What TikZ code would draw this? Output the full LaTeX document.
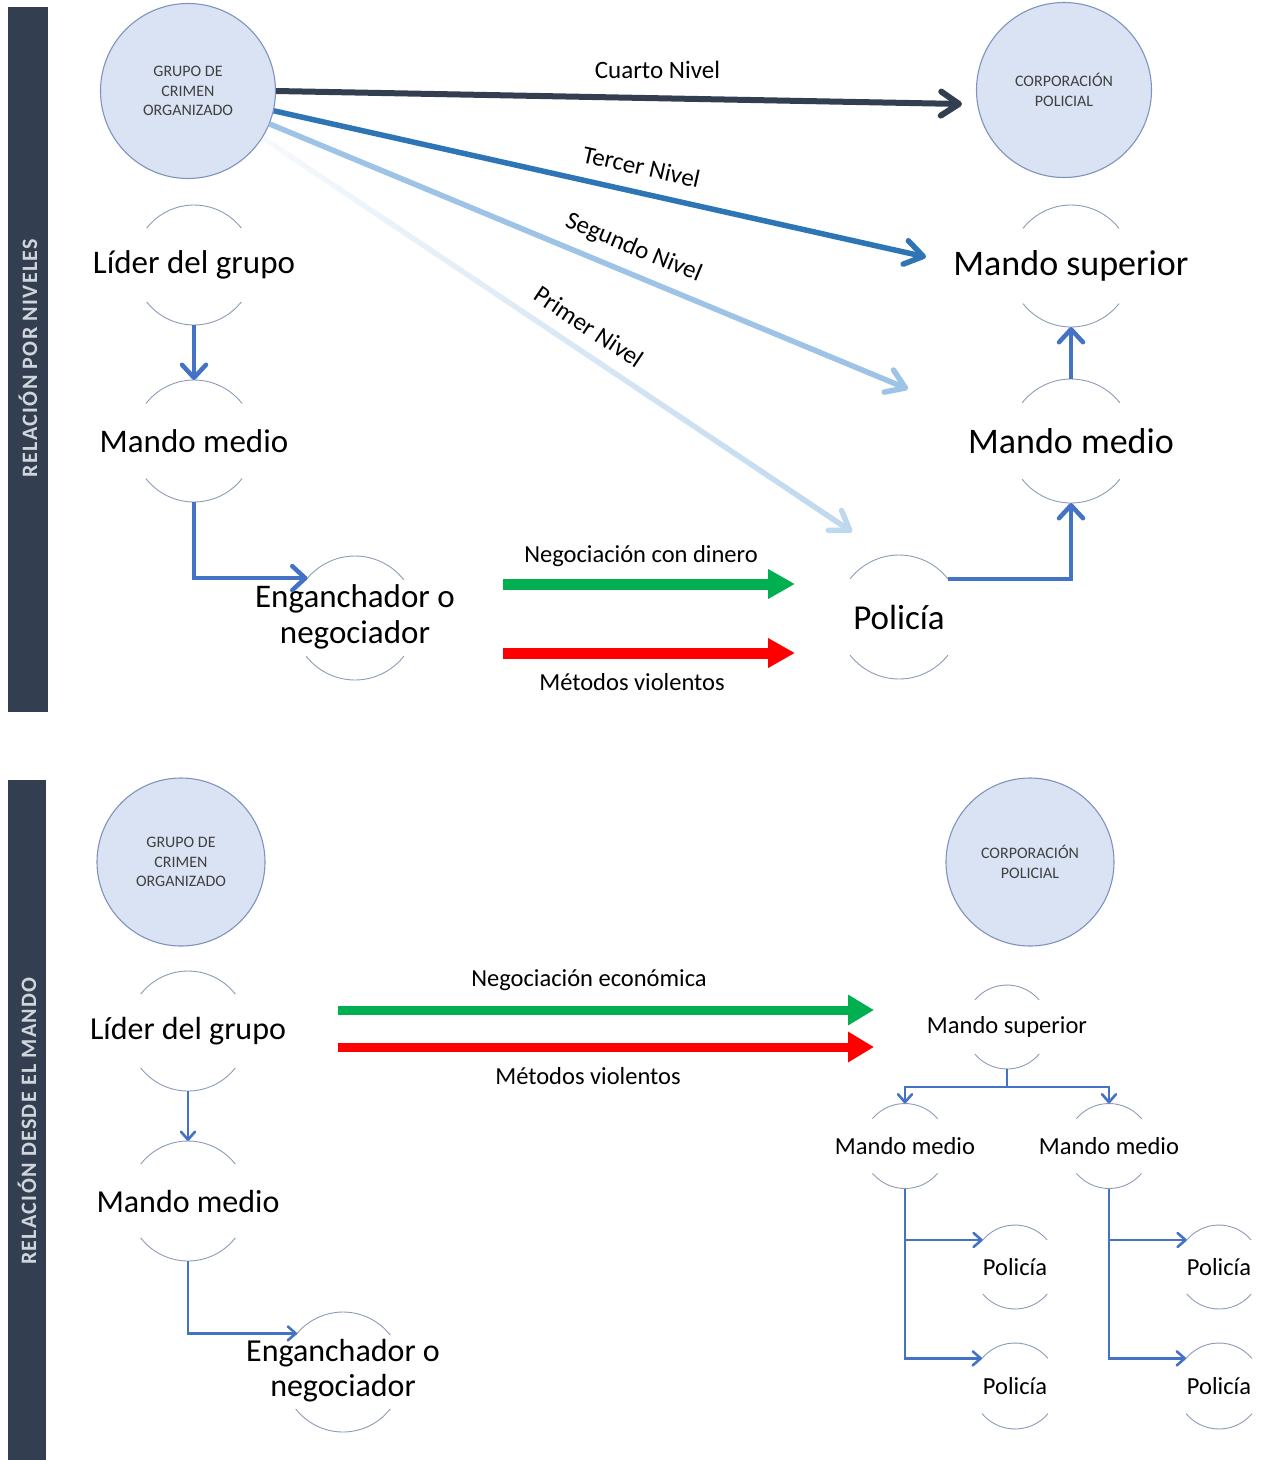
\documentclass[tikz,border=0pt]{standalone}
\usepackage{fontspec}
\setmainfont{Carlito}
\usetikzlibrary{arrows.meta,fadings}
\definecolor{barcol}{HTML}{333F50}
\definecolor{bartext}{HTML}{D0D5DD}
\definecolor{circfill}{HTML}{DAE3F3}
\definecolor{circdraw}{HTML}{7F93BD}
\definecolor{circtext}{HTML}{404040}
\definecolor{arccol}{HTML}{8C9BB8}
\definecolor{conblue}{HTML}{4472C4}
\definecolor{lvfour}{HTML}{333F50}
\definecolor{lvthree}{HTML}{2E75B6}
\definecolor{lvtwo}{HTML}{9DC3E6}
\definecolor{lvone}{HTML}{BDD7EE}
\definecolor{okgreen}{HTML}{00B050}
\definecolor{badred}{HTML}{FF0000}
\tikzfading[name=lvfade, left color=transparent!88, right color=transparent!0]
\newcommand\twolines[2]{\begin{tabular}{@{}c@{}}#1\\#2\end{tabular}}
\begin{document}
\begin{tikzpicture}[x=1pt,y=1pt,
  bignode/.style={circle, draw=circdraw, fill=circfill, line width=1.1pt, minimum size=#1, inner sep=0pt, align=center, text=circtext, font=\fontsize{16}{19.5}\selectfont},
  ring/.style={circle, minimum size=#1, inner sep=0pt, outer sep=0pt, text=black, execute at begin node={\hbox to 0pt\bgroup\hss}, execute at end node={\hss\egroup}},
  arcline/.style={draw=arccol, line width=0.9pt},
  conn/.style={draw=conblue, line width=4.5pt, -{Straight Barb[length=13pt,width=24pt,round]}},
  thinconn/.style={draw=conblue, line width=2.6pt, -{Straight Barb[length=8pt,width=14pt,round]}},
  lvl/.style={line width=5.5pt, -{Straight Barb[length=18pt,width=24pt,round]}},
  lvlab/.style={font=\fontsize{25}{30}\selectfont, sloped, text=black},
  fat/.style={line width=11pt, -{Triangle[length=27pt,width=28pt]}},
  fatb/.style={line width=9pt, -{Triangle[length=26pt,width=29pt]}},
  lab/.style={font=\fontsize{24.5}{29}\selectfont, text=black},
  bartxt/.style={rotate=90, text=bartext, font=\fontsize{22}{26}\selectfont\bfseries\addfontfeatures{LetterSpace=6}},
  fbig/.style={font=\fontsize{33}{36}\selectfont},
  fbigr/.style={font=\fontsize{36}{40}\selectfont},
  fmid/.style={font=\fontsize{32}{35}\selectfont},
  fsmall/.style={font=\fontsize{24.5}{28}\selectfont},
]
\useasboundingbox (0,0) rectangle (1262,-1460);

% side bars
\fill[barcol] (8,-7) rectangle (48,-712);
\fill[barcol] (8,-780) rectangle (46,-1460);
\node[bartxt] (barA) at (28,-358) {RELACIÓN POR NIVELES};
\node[bartxt] (barB) at (27,-1121) {RELACIÓN DESDE EL MANDO};

% ===== top section =====
\node[bignode=175pt] (grupoA) at (188,-91) {GRUPO DE\\CRIMEN\\ORGANIZADO};
\node[bignode=175pt] (corpA) at (1064,-90) {CORPORACIÓN\\POLICIAL};

\node[ring=120pt, fbig] (lidA) at (194,-265) {Líder del grupo};
\node[ring=122pt, fbig] (medA) at (194,-441) {Mando medio};
\node[ring=124pt, fbig] (engA) at (355,-618) {\twolines{Enganchador o}{negociador}};
\node[ring=124pt, font=\fontsize{35}{40}\selectfont] (polA) at (899,-617) {Policía};
\node[ring=124pt, fbigr] (medB) at (1071,-441) {Mando medio};
\node[ring=122pt, fbigr] (supB) at (1071,-266) {Mando superior};

% ===== bottom section =====
\node[bignode=168pt] (grupoB) at (181,-862) {GRUPO DE\\CRIMEN\\ORGANIZADO};
\node[bignode=168pt] (corpB) at (1030,-862) {CORPORACIÓN\\POLICIAL};

\node[ring=120pt, fmid] (lidC) at (188,-1031) {Líder del grupo};
\node[ring=120pt, fmid] (medD) at (188,-1201) {Mando medio};
\node[ring=120pt, fmid] (engB) at (343,-1372) {\twolines{Enganchador o}{negociador}};

\node[ring=84pt, fsmall] (supC) at (1007,-1027) {Mando superior};
\node[ring=85pt, fsmall] (medC1) at (905,-1146) {Mando medio};
\node[ring=85pt, fsmall] (medC2) at (1109,-1146) {Mando medio};
\node[ring=84pt, fsmall] (polC1) at (1015,-1267) {Policía};
\node[ring=86pt, fsmall] (polC2) at (1015,-1386) {Policía};
\node[ring=84pt, fsmall] (polC3) at (1219,-1267) {Policía};
\node[ring=86pt, fsmall] (polC4) at (1219,-1386) {Policía};

% arcs around the text nodes
\foreach \n/\r in {lidA/60, medA/61, engA/62, polA/62, medB/62, supB/61, lidC/60, medD/60, engB/60}{
  \draw[arcline] (\n.38) arc[start angle=38, end angle=142, radius=\r pt];
  \draw[arcline] (\n.218) arc[start angle=218, end angle=322, radius=\r pt];
}
\foreach \n/\r in {supC/42, medC1/42.5, medC2/42.5, polC1/42, polC2/43, polC3/42, polC4/43}{
  \draw[arcline] (\n.40) arc[start angle=40, end angle=140, radius=\r pt];
  \draw[arcline] (\n.220) arc[start angle=220, end angle=320, radius=\r pt];
}

% level arrows
\coordinate (e4) at (962,-104);
\coordinate (e3) at (926,-257);
\coordinate (e2) at (908,-389);
\coordinate (e1) at (853,-532);
\draw[lvl, draw=lvone, path fading=lvfade] (grupoA.-32) -- (e1);
\path (grupoA.-32) -- (e1) node[lvlab, pos=0.53, above=12pt] {Primer Nivel};
\draw[lvl, draw=lvtwo] (grupoA.-22.4) -- node[lvlab, pos=0.555, above=8pt] {Segundo Nivel} (e2);
\draw[lvl, draw=lvthree] (grupoA.-13.7) -- node[lvlab, pos=0.555, above=11pt] {Tercer Nivel} (e3);
\draw[lvl, draw=lvfour, line width=6pt] (grupoA.-0.5) -- node[lab, pos=0.556, above=13pt, font=\fontsize{25}{30}\selectfont] {Cuarto Nivel} (e4);

% top connectors
\draw[conn] (lidA.south) -- (medA.north);
\draw[conn] (medA.south) |- (engA.140);
\draw[conn] (polA.38) -| (medB.south);
\draw[conn] (medB.north) -- (supB.south);

% top green / red
\coordinate (gA1) at (503,-584);
\coordinate (gA2) at (795,-584);
\coordinate (rA1) at (503,-653);
\coordinate (rA2) at (795,-653);
\draw[fat, draw=okgreen, fill=okgreen] (gA1) -- (gA2);
\draw[fat, draw=badred, fill=badred] (rA1) -- (rA2);
\node[lab] (negA) at (641,-556) {Negociación con dinero};
\node[lab] (vioA) at (632,-682) {Métodos violentos};

% bottom connectors
\draw[thinconn] (lidC.south) -- (medD.north);
\draw[thinconn] (medD.south) |- (engB.140);
\draw[thinconn] (supC.south) -- ++(0,-18) -| (medC1.north);
\draw[thinconn] (supC.south) -- ++(0,-18) -| (medC2.north);
\draw[thinconn] (medC1.south) |- (polC1.140);
\draw[thinconn] (medC1.south) |- (polC2.140);
\draw[thinconn] (medC2.south) |- (polC3.140);
\draw[thinconn] (medC2.south) |- (polC4.140);

% bottom green / red
\coordinate (gB1) at (338,-1010);
\coordinate (gB2) at (874,-1010);
\coordinate (rB1) at (338,-1047);
\coordinate (rB2) at (874,-1047);
\draw[fatb, draw=okgreen, fill=okgreen] (gB1) -- (gB2);
\draw[fatb, draw=badred, fill=badred] (rB1) -- (rB2);
\node[lab] (negB) at (589,-980) {Negociación económica};
\node[lab] (vioB) at (588,-1076) {Métodos violentos};
\end{tikzpicture}
\end{document}
